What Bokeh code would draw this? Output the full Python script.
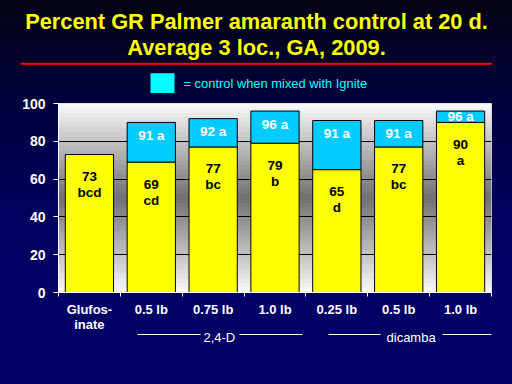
from bokeh.plotting import figure
from bokeh.layouts import column
from bokeh.models import Range1d, FixedTicker, LinearAxis
from bokeh.embed import file_html
from bokeh.resources import INLINE
from bokeh.core.properties import value

# ---------------- data ----------------
categories = ["Glufos-\ninate", "0.5 lb", "0.75 lb", "1.0 lb", "0.25 lb", "0.5 lb", "1.0 lb"]
herbicide_alone = [73, 69, 77, 79, 65, 77, 90]
alone_letters = ["bcd", "cd", "bc", "b", "d", "bc", "a"]
with_ignite = [None, 90, 92, 96, 91, 91, 96]
with_ignite_labels = [None, "91 a", "92 a", "96 a", "91 a", "91 a", "96 a"]
groups = ["2,4-D", "dicamba"]
y_ticks = [0, 20, 40, 60, 80, 100]
title_lines = ["Percent GR Palmer amaranth control at 20 d.", "Average 3 loc., GA, 2009."]
legend_text = "= control when mixed with Ignite"

FONT = "Liberation Sans"
W = 512
TOP_H, MAIN_H = 93, 291
FL, FR = 58, 491          # frame left/right (px)
n = len(categories)
centers = [i + 0.5 for i in range(n)]


def lerp(c1, c2, t):
    t = max(0.0, min(1.0, t))
    return "#%02x%02x%02x" % tuple(int(round(a + (b - a) * t)) for a, b in zip(c1, c2))


# ---------------- header figure (title + legend) ----------------
top = figure(width=W, height=TOP_H, x_range=Range1d(0, W), y_range=Range1d(TOP_H, 0),
             toolbar_location=None, output_backend="svg")
top.axis.visible = False
top.grid.visible = False
top.outline_line_color = None
top.min_border = 0
top.frame_align = False
top.border_fill_alpha = 0
top.background_fill_alpha = 0
top.text(x=[256, 256], y=[20.5, 47.2], text=title_lines, text_align="center",
         text_baseline="middle", text_font=value(FONT), text_font_style="bold",
         text_font_size="21.8px", text_color="#ffff00")
top.quad(left=[20], right=[491.7], top=[62.3], bottom=[64.3], fill_color="#ff0000", line_color=None)
top.quad(left=[150], right=[174], top=[72.7], bottom=[92.7], fill_color="#00ffff", line_color=None)
top.text(x=[183], y=[82.5], text=[legend_text], text_align="left", text_baseline="middle",
         text_font=value(FONT), text_font_size="12.9px", text_color="#00ffff")

# ---------------- main chart ----------------
p = figure(width=W, height=MAIN_H, x_range=Range1d(0, n), y_range=Range1d(0, 100),
           toolbar_location=None, output_backend="svg",
           min_border_left=FL, min_border_right=W - FR, min_border_top=10, min_border_bottom=92)
p.frame_align = False
p.title.visible = False
p.border_fill_alpha = 0
p.outline_line_color = "#d0d0d0"

nb = 40
bands_b = [100 * i / nb for i in range(nb)]
bands_t = [100 * (i + 1.3) / nb for i in range(nb)]
bcol = [lerp((112, 112, 112), (250, 250, 250), abs(100 * (i + 0.5) / nb - 50) / 50.0) for i in range(nb)]
p.quad(left=0, right=n, bottom=bands_b, top=bands_t, fill_color=bcol, line_color=None, level="image")

bar_w = 0.78
p.vbar(x=centers, top=herbicide_alone, bottom=0, width=bar_w,
       fill_color="#ffff00", line_color="black", line_width=1)
ix = [i for i in range(n) if with_ignite[i] is not None]
p.vbar(x=[centers[i] for i in ix], top=[with_ignite[i] for i in ix],
       bottom=[herbicide_alone[i] for i in ix], width=bar_w,
       fill_color="#00ccff", line_color="black", line_width=1)

p.text(x=centers, y=herbicide_alone, text=[str(v) for v in herbicide_alone],
       text_align="center", text_baseline="middle", y_offset=22,
       text_font=value(FONT), text_font_style="bold", text_font_size="13.5px", text_color="black")
p.text(x=centers, y=herbicide_alone, text=alone_letters,
       text_align="center", text_baseline="middle", y_offset=38,
       text_font=value(FONT), text_font_style="bold", text_font_size="13.5px", text_color="black")
ly = [max(with_ignite[i] - 7.0, (with_ignite[i] + herbicide_alone[i]) / 2) for i in ix]
p.text(x=[centers[i] for i in ix], y=ly, text=[with_ignite_labels[i] for i in ix],
       text_align="center", text_baseline="middle",
       text_font=value(FONT), text_font_style="bold", text_font_size="13.5px", text_color="white")

p.xgrid.visible = False
p.ygrid.ticker = FixedTicker(ticks=[t for t in y_ticks if 0 < t < 100])
p.ygrid.grid_line_color = "black"
p.ygrid.grid_line_width = 1

xa = p.xaxis[0]
xa.ticker = FixedTicker(ticks=centers, minor_ticks=list(range(n + 1)))
xa.major_label_overrides = {c: lab for c, lab in zip(centers, categories)}
xa.major_tick_out = 0
xa.major_tick_in = 0
xa.minor_tick_out = 4
xa.minor_tick_in = 0
xa.minor_tick_line_color = "white"
xa.axis_line_color = "white"
xa.major_label_text_color = "white"
xa.major_label_text_font = FONT
xa.major_label_text_font_style = "bold"
xa.major_label_text_font_size = "13px"
xa.major_label_text_line_height = 1.0
xa.major_label_standoff = 5

ya = p.yaxis[0]
ya.ticker = FixedTicker(ticks=y_ticks, minor_ticks=[])
ya.major_tick_out = 5
ya.major_tick_in = 0
ya.major_tick_line_color = "white"
ya.axis_line_color = "white"
ya.major_label_text_color = "white"
ya.major_label_text_font = FONT
ya.major_label_text_font_style = "bold"
ya.major_label_text_font_size = "14px"
ya.major_label_standoff = 8

# ---- group brackets: line-only axes with bounds, then the group-name axis ----
group_text_x = [2.6, 5.7]
group_lines = [[(1.27, 2.29), (2.92, 3.95)], [(4.36, 5.20), (6.21, 7.0)]]
for seg in [s for g in group_lines for s in g]:
    p.add_layout(LinearAxis(bounds=seg, ticker=FixedTicker(ticks=[], minor_ticks=[]),
                            major_tick_out=0, major_tick_in=0, minor_tick_out=0, minor_tick_in=0,
                            major_label_standoff=0, axis_line_color="white", axis_line_width=1),
                 "below")
gax = LinearAxis(ticker=FixedTicker(ticks=group_text_x, minor_ticks=[]),
                 major_label_overrides={x: g for x, g in zip(group_text_x, groups)},
                 major_tick_out=0, major_tick_in=0, minor_tick_out=0, minor_tick_in=0,
                 axis_line_color=None, major_label_standoff=-5,
                 major_label_text_color="white", major_label_text_font=FONT,
                 major_label_text_font_size="13px")
p.add_layout(gax, "below")

layout = column(top, p, spacing=0,
                styles={"background": "linear-gradient(180deg, #030312 0px, #000038 90px, #00005c 200px, #000066 290px, #000066 384px)"})
open("out.html", "w").write(file_html(layout, INLINE))
